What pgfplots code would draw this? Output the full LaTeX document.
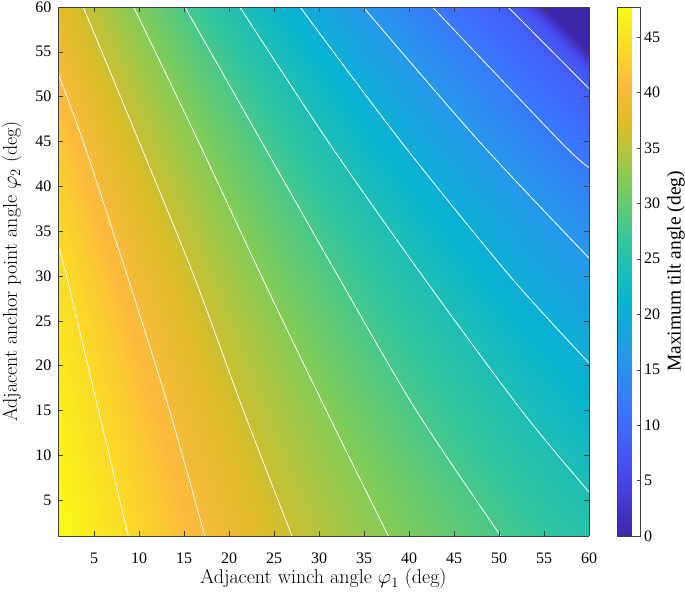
\documentclass[border=0pt]{standalone}
\usepackage{fontspec}
\usepackage{pgfplots}
\pgfplotsset{compat=1.18}
\newfontfamily\tnr{Liberation Serif}

\pgfplotsset{
  colormap={parula}{
    rgb(0pt)=(0.2422,0.1504,0.6603)
    rgb(10pt)=(0.2803,0.2782,0.9221)
    rgb(20pt)=(0.2440,0.4358,0.9988)
    rgb(30pt)=(0.1540,0.5902,0.9218)
    rgb(40pt)=(0.0297,0.7082,0.8163)
    rgb(50pt)=(0.1938,0.7758,0.6251)
    rgb(60pt)=(0.5044,0.7993,0.3480)
    rgb(70pt)=(0.8634,0.7406,0.1596)
    rgb(77pt)=(0.9900,0.7300,0.2400)
    rgb(80pt)=(0.9850,0.8000,0.1900)
    rgb(90pt)=(0.9769,0.9839,0.0805)
  },
  tick label style={font=\tnr\fontsize{16}{18}\selectfont},
  /pgf/number format/assume math mode=true,
}

\begin{document}
\begin{tikzpicture}
\begin{axis}[
    name=main,
    view={0}{90},
    scale only axis,
    width=531pt, height=529pt,
    xmin=1, xmax=60, ymin=1, ymax=60,
    enlargelimits=false,
    xtick={5,10,...,60}, ytick={5,10,...,60},
    tick align=inside,
    major tick length=5pt,
    axis line style={black!75},
    tick style={black!75, line width=0.5pt},
    axis on top,
    colormap name=parula,
    point meta min=0, point meta max=47.7,
    xticklabel style={yshift=-13pt},
    yticklabel style={xshift=-3pt},
    xlabel={Adjacent winch angle $\varphi_1$ (deg)},
    ylabel={Adjacent anchor point angle $\varphi_2$ (deg)},
    label style={font=\fontsize{20}{24}\selectfont},
    xlabel style={at={(axis description cs:0.5,0)}, anchor=base, yshift=-48pt},
    ylabel style={at={(axis description cs:0,0.5)}, anchor=base, yshift=41pt},
    colorbar,
    colorbar style={
        at={(parent axis.north east)}, anchor=north west, xshift=20pt,
        width=23pt,
        ytick={0,5,...,45},
        ytick pos=right,
        tick align=inside,
        major tick length=4pt,
        axis line style={black!75},
        tick style={black!75},
        ylabel={Maximum tilt angle (deg)},
        ylabel style={font=\tnr\fontsize{19.5}{23}\selectfont,
            at={(axis description cs:1,0.5)}, anchor=base, yshift=-40pt},
    },
]

% maximum tilt angle (deg), rows of constant phi2
\addplot3[surf, shader=interp, mesh/cols=15] coordinates {
(1,1,47.7) (5,1,45.8) (10,1,43.4) (15,1,41.1) (20,1,38.9) (25,1,36.8) (30,1,34.9) (35,1,33.0) (40,1,31.3) (45,1,29.7) (50,1,28.1) (52.5,1,27.3) (55,1,26.6) (57.5,1,25.9) (60,1,25.2)
(1,5,47.3) (5,5,45.4) (10,5,43.0) (15,5,40.6) (20,5,38.4) (25,5,36.2) (30,5,34.2) (35,5,32.3) (40,5,30.6) (45,5,28.9) (50,5,27.3) (52.5,5,26.5) (55,5,25.7) (57.5,5,25.0) (60,5,24.2)
(1,10,46.8) (5,10,44.8) (10,10,42.4) (15,10,39.9) (20,10,37.6) (25,10,35.4) (30,10,33.3) (35,10,31.4) (40,10,29.5) (45,10,27.7) (50,10,26.1) (52.5,10,25.3) (55,10,24.5) (57.5,10,23.7) (60,10,22.9)
(1,15,46.3) (5,15,44.3) (10,15,41.7) (15,15,39.2) (20,15,36.8) (25,15,34.5) (30,15,32.4) (35,15,30.3) (40,15,28.3) (45,15,26.6) (50,15,24.9) (52.5,15,24.0) (55,15,23.2) (57.5,15,22.4) (60,15,21.6)
(1,20,45.8) (5,20,43.6) (10,20,41.0) (15,20,38.4) (20,20,35.9) (25,20,33.6) (30,20,31.3) (35,20,29.2) (40,20,27.2) (45,20,25.4) (50,20,23.6) (52.5,20,22.7) (55,20,21.9) (57.5,20,21.0) (60,20,20.1)
(1,25,45.2) (5,25,43.0) (10,25,40.2) (15,25,37.5) (20,25,35.0) (25,25,32.5) (30,25,30.2) (35,25,28.0) (40,25,26.0) (45,25,24.1) (50,25,22.2) (52.5,25,21.2) (55,25,20.3) (57.5,25,19.4) (60,25,18.4)
(1,30,44.6) (5,30,42.2) (10,30,39.3) (15,30,36.6) (20,30,33.9) (25,30,31.3) (30,30,29.0) (35,30,26.8) (40,30,24.6) (45,30,22.6) (50,30,20.5) (52.5,30,19.5) (55,30,18.6) (57.5,30,17.6) (60,30,16.7)
(1,35,43.8) (5,35,41.3) (10,35,38.3) (15,35,35.5) (20,35,32.7) (25,35,30.1) (30,35,27.7) (35,35,25.4) (40,35,23.1) (45,35,21.0) (50,35,18.9) (52.5,35,17.9) (55,35,16.9) (57.5,35,15.9) (60,35,14.9)
(1,40,43.0) (5,40,40.3) (10,40,37.2) (15,40,34.3) (20,40,31.4) (25,40,28.8) (30,40,26.2) (35,40,23.8) (40,40,21.5) (45,40,19.2) (50,40,17.1) (52.5,40,16.0) (55,40,15.0) (57.5,40,14.0) (60,40,12.9)
(1,45,42.1) (5,45,39.2) (10,45,36.0) (15,45,33.0) (20,45,30.1) (25,45,27.2) (30,45,24.5) (35,45,22.0) (40,45,19.6) (45,45,17.3) (50,45,15.0) (52.5,45,13.9) (55,45,12.8) (57.5,45,11.7) (60,45,10.6)
(1,50,40.8) (5,50,38.0) (10,50,34.7) (15,50,31.5) (20,50,28.5) (25,50,25.6) (30,50,22.8) (35,50,20.2) (40,50,17.7) (45,50,15.3) (50,50,13.0) (52.5,50,11.8) (55,50,10.7) (57.5,50,9.5) (60,50,8.4)
(1,52.5,40.0) (5,52.5,37.3) (10,52.5,34.0) (15,52.5,30.7) (20,52.5,27.6) (25,52.5,24.7) (30,52.5,21.9) (35,52.5,19.2) (40,52.5,16.7) (45,52.5,14.3) (50,52.5,11.9) (52.5,52.5,10.7) (55,52.5,9.6) (57.5,52.5,8.4) (60,52.5,7.3)
(1,55,39.4) (5,55,36.6) (10,55,33.2) (15,55,29.9) (20,55,26.7) (25,55,23.7) (30,55,20.9) (35,55,18.2) (40,55,15.6) (45,55,13.2) (50,55,10.8) (52.5,55,9.6) (55,55,8.4) (57.5,55,7.3) (60,55,0.0)
(1,57.5,38.7) (5,57.5,35.9) (10,57.5,32.4) (15,57.5,29.0) (20,57.5,25.8) (25,57.5,22.8) (30,57.5,19.9) (35,57.5,17.1) (40,57.5,14.5) (45,57.5,12.0) (50,57.5,9.6) (52.5,57.5,8.5) (55,57.5,7.3) (57.5,57.5,0.0) (60,57.5,0.0)
(1,60,38.0) (5,60,35.1) (10,60,31.6) (15,60,28.1) (20,60,24.8) (25,60,21.7) (30,60,18.8) (35,60,16.0) (40,60,13.4) (45,60,10.9) (50,60,8.5) (52.5,60,7.3) (55,60,0.0) (57.5,60,0.0) (60,60,0.0)
};

% contour lines, 44 down to 8 deg in steps of 4
\addplot[white, line width=0.8pt, smooth] coordinates {(1,33.3) (1.94,30) (5.5,15) (8.8,1)};
\addplot[white, line width=0.8pt, smooth] coordinates {(1,52.6) (3.8,45) (8.7,30) (13.4,15) (17.3,1)};
\addplot[white, line width=0.8pt, smooth] coordinates {(3.8,60) (10.0,45) (16.1,30) (21.6,15) (27,1)};
\addplot[white, line width=0.8pt, smooth] coordinates {(9.4,60) (16.6,45) (23.6,30) (30.8,15) (37.7,1)};
\addplot[white, line width=0.8pt, smooth] coordinates {(15.1,60) (23.6,45) (32.1,30) (40.8,15) (50.2,1)};
\addplot[white, line width=0.8pt, smooth] coordinates {(21.2,60) (31.0,45) (41.5,30) (52.5,15) (60,5.9)};
\addplot[white, line width=0.8pt, smooth] coordinates {(27.9,60) (39.1,45) (51.2,30) (60,20.3)};
\addplot[white, line width=0.8pt, smooth] coordinates {(34.9,60) (47.8,45) (60,32)};
\addplot[white, line width=0.8pt, smooth] coordinates {(42.6,60) (56.8,45) (60,42.1)};
\addplot[white, line width=0.8pt, smooth] coordinates {(51,60) (60,50.9)};

\coordinate (sw) at (rel axis cs:0,0,0);
\coordinate (ne) at (rel axis cs:1,1,0);
\end{axis}
\pgfresetboundingbox
\path[use as bounding box] ([shift={(-58pt,-58pt)}]sw) rectangle ([shift={(96pt,7pt)}]ne);
\end{tikzpicture}
\end{document}
